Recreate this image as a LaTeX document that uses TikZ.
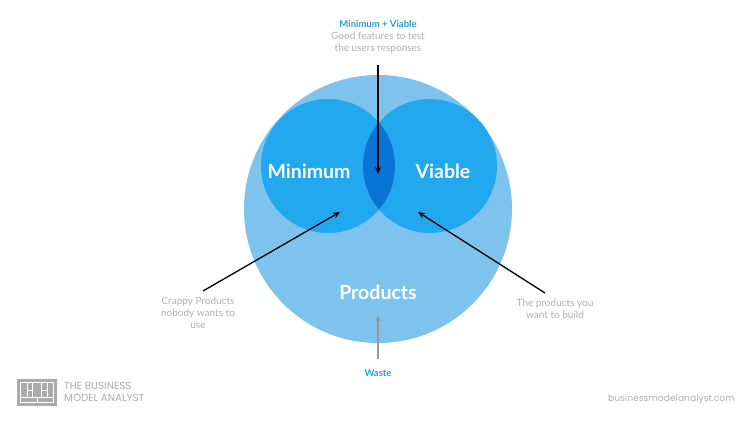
\documentclass[tikz,border=0pt]{standalone}
\usepackage{fontspec}
\setmainfont{Lato}
\newfontfamily\logofont{Poppins}
\usetikzlibrary{arrows.meta}
\definecolor{bigc}{HTML}{7DC3EE}
\definecolor{smallc}{HTML}{22A8EE}
\definecolor{lensc}{HTML}{0A74D6}
\definecolor{labblue}{HTML}{27A0D0}
\definecolor{greytxt}{HTML}{B0B0B0}
\definecolor{logogrey}{HTML}{ABABAB}
\tikzset{
  note/.style={text=greytxt, font=\fontsize{10}{11.8}\selectfont, align=center, inner sep=0pt},
  head/.style={text=labblue, font=\fontsize{9.5}{11.5}\selectfont\bfseries, inner sep=0pt},
  big/.style={text=white, font=\fontsize{19.5}{22}\selectfont\bfseries, inner sep=0pt},
  pointer/.style={draw=black, line width=1.3pt, -{Stealth[length=7pt,width=6pt]}},
  greypointer/.style={draw=gray!80, line width=1.3pt, -{Stealth[length=7pt,width=6pt]}},
}
\begin{document}
\begin{tikzpicture}[x=1pt,y=-1pt]
\useasboundingbox (0,0) rectangle (756,425);
\fill[white] (0,0) rectangle (756,425);
% circles
\fill[bigc] (378,209) circle (134);
\fill[smallc] (328,166) circle (67);
\fill[smallc] (430,166) circle (67);
\begin{scope}
  \clip (328,166) circle (67);
  \fill[lensc] (430,166) circle (67);
\end{scope}
% labels in circles
\node[big] (mini) at (309,171) {Minimum};
\node[big] (viab) at (443,171) {Viable};
\node[big] (prod) at (378,292) {Products};
% top text
\node[head] (mv) at (378,24) {Minimum + Viable};
\node[note] (good) at (378,43) {Good features to test\\the users responses};
% left note
\node[note] (crap) at (198,313) {Crappy Products\\nobody wants to\\use};
% right note
\node[note] (want) at (555,309) {The products you\\want to build};
% waste
\node[head] (waste) at (378,373) {Waste};
% arrow anchors
\coordinate (ttop) at (378,65);
\coordinate (tend) at (378,174);
\coordinate (lstart) at (203,291);
\coordinate (lend) at (340,212);
\coordinate (rstart) at (545,293);
\coordinate (rend) at (418,212);
\coordinate (wstart) at (378,359);
\coordinate (wend) at (378,315);
\draw[pointer] (ttop) -- (tend);
\draw[pointer] (lstart) -- (lend);
\draw[pointer] (rstart) -- (rend);
\draw[greypointer] (wstart) -- (wend);
% logo
\node[fill=logogrey, minimum width=40pt, minimum height=27pt, inner sep=0pt] (logo) at (37,392.5) {};
\begin{scope}[white, line width=0.9pt]
  \draw (20.5,382.5) rectangle (53.5,402.5);
  \draw (20.5,397) -- (53.5,397);
  \draw (27,382.5) -- (27,397);
  \draw (32.5,382.5) -- (32.5,397);
  \draw (41.5,382.5) -- (41.5,397);
  \draw (47,382.5) -- (47,397);
  \draw (27,390) -- (32.5,390);
  \draw (41.5,390) -- (47,390);
  \draw (37,397) -- (37,402.5);
\end{scope}
\node[anchor=west, text=logogrey, font=\logofont\fontsize{10.3}{11}\selectfont, inner sep=0pt] (logo1) at (64,386) {THE BUSINESS};
\node[anchor=west, text=logogrey, font=\logofont\fontsize{10.3}{11}\selectfont, inner sep=0pt] (logo2) at (64,398) {MODEL ANALYST};
\node[anchor=east, text=greytxt, font=\logofont\fontsize{9.2}{11}\selectfont, inner sep=0pt] (url) at (735,399) {businessmodelanalyst.com};
\end{tikzpicture}
\end{document}
